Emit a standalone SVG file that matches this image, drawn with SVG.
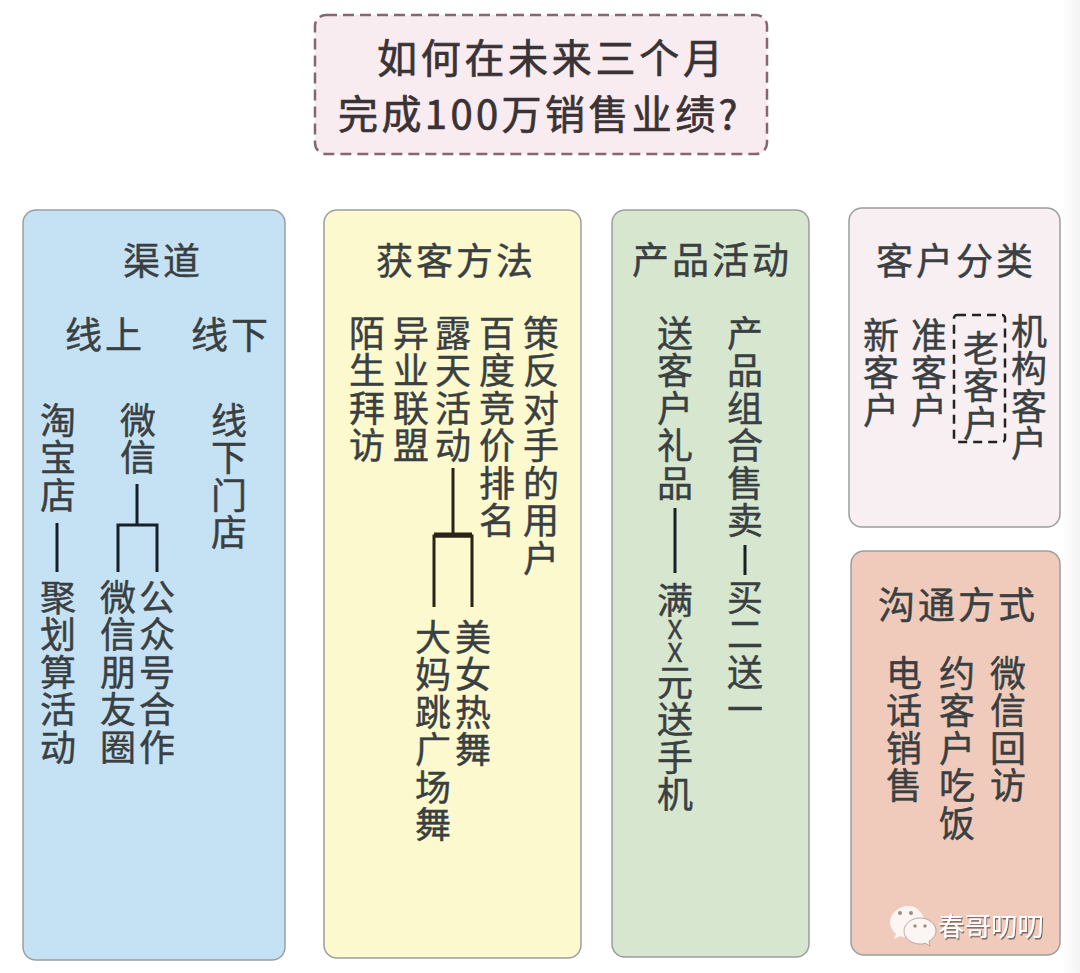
<svg xmlns="http://www.w3.org/2000/svg" width="1080" height="973" viewBox="0 0 1080 973">
<style>
text{font-family:"Noto Sans CJK SC","Noto Sans",sans-serif;font-size:36px;fill:#3a3f42;stroke:#3a3f42;stroke-width:.45px}
.v{writing-mode:vertical-rl;text-orientation:upright;letter-spacing:1.5px}
.h{font-size:37px;letter-spacing:3px}
.t{font-size:40px;fill:#3a3335;stroke:#3a3335;stroke-width:.7px}
.box{stroke:#9a9f9f;stroke-width:1.5}
.c{fill:none;stroke:#15202a;stroke-width:3}
.wm{font-size:26.5px;fill:#fff;stroke:none}
</style>
<defs>
<linearGradient id="edge"><stop offset="0" stop-color="#fff"/><stop offset="1" stop-color="#f3f3f3"/></linearGradient>
<filter id="sh" x="-10%" y="-10%" width="120%" height="130%"><feDropShadow dx="1" dy="1.5" stdDeviation="0.6" flood-color="#5a4a44" flood-opacity="0.8"/></filter>
</defs>
<rect width="1080" height="973" fill="#fff"/>
<rect x="1062" width="18" height="973" fill="url(#edge)"/>
<g id="title">
<rect x="315" y="15" width="452" height="139" rx="11" fill="#f9ecf1" stroke="#85686f" stroke-width="2.5" stroke-dasharray="11 6"/>
<text class="t" x="377" y="73" letter-spacing="3.7">如何在未来三个月</text>
<text class="t" x="338" y="129" letter-spacing="3.4">完成100万销售业绩?</text>
</g>
<g id="channel">
<rect class="box" x="23" y="210" width="262" height="750" rx="13" fill="#c5e2f5"/>
<text class="h" x="123" y="275">渠道</text>
<text class="h" x="65" y="349">线上</text>
<text class="h" x="191" y="349">线下</text>
<text class="v" x="58" y="402">淘宝店</text>
<text class="v" x="58" y="579">聚划算活动</text>
<text class="v" x="138" y="402">微信</text>
<text class="v" x="229" y="402">线下门店</text>
<text class="v" x="118" y="579">微信朋友圈</text>
<text class="v" x="157" y="579">公众号合作</text>
</g>
<g id="acquire">
<rect class="box" x="324" y="210" width="257" height="748" rx="13" fill="#fdf9cf"/>
<text class="h" x="376" y="275">获客方法</text>
<text class="v" x="367" y="315">陌生拜访</text>
<text class="v" x="411" y="315">异业联盟</text>
<text class="v" x="453" y="315">露天活动</text>
<text class="v" x="497" y="315">百度竞价排名</text>
<text class="v" x="541" y="315">策反对手的用户</text>
<text class="v" x="433" y="619">大妈跳广场舞</text>
<text class="v" x="473" y="619">美女热舞</text>
</g>
<g id="product">
<rect class="box" x="612" y="210" width="197" height="747" rx="13" fill="#d7e6cf"/>
<text class="h" x="632" y="274">产品活动</text>
<text class="v" x="675" y="315">送客户礼品</text>
<text class="v" x="675" y="582">满<tspan dy="-4" style="font-size:26px;letter-spacing:-3px">XX</tspan><tspan dy="2">元送手机</tspan></text>
<text class="v" x="745" y="315">产品组合售卖</text>
<text class="v" x="745" y="579">买二送一</text>
</g>
<g id="customer">
<rect class="box" x="849" y="208" width="211" height="319" rx="13" fill="#f8eff3"/>
<text class="h" x="876" y="275">客户分类</text>
<text class="v" x="881" y="317">新客户</text>
<text class="v" x="929" y="317">准客户</text>
<text class="v" x="981" y="330">老客户</text>
<text class="v" x="1029" y="313">机构客户</text>
<rect x="954" y="315" width="51" height="127" rx="3" fill="none" stroke="#222" stroke-width="2.5" stroke-dasharray="9 6"/>
</g>
<g id="contact">
<rect class="box" x="851" y="551" width="209" height="404" rx="13" fill="#f0cbbb"/>
<text class="h" x="878" y="619">沟通方式</text>
<text class="v" x="904" y="655">电话销售</text>
<text class="v" x="957" y="655">约客户吃饭</text>
<text class="v" x="1008" y="655">微信回访</text>
</g>
<g id="connectors">
<path class="c" d="M57 523V572"/>
<path class="c" d="M137 484V525M118 572V525H157V572"/>
<path class="c" style="stroke:#2a2418" d="M453 468V535"/>
<path class="c" style="stroke:#2a2418" d="M434 607V536H472V607"/>
<path class="c" style="stroke:#2a2418;stroke-width:5" d="M434 535H472"/>
<path class="c" d="M675 508V573"/>
<path class="c" d="M745 545V575"/>
</g>
<g id="watermark">
<path d="M909 906c-10 0-19 7-19 16 0 5 3 9 6 12l-2 5 6-3c2 1 4 1 6 1 0-8 8-15 19-15-2-9-8-16-16-16z" fill="#fbf6f3"/>
<path d="M920 918c-9 0-16 6-16 13s7 13 16 13c2 0 4 0 5 -1l5 3-1-5c4-2 7-6 7-10 0-7-7-13-16-13z" fill="#fbf6f3" stroke="#a88a80" stroke-width="0.7"/>
<circle cx="900" cy="913" r="2" fill="#a08a84"/><circle cx="911" cy="913" r="2" fill="#a08a84"/>
<circle cx="915" cy="926" r="1.7" fill="#a08a84"/><circle cx="925" cy="926" r="1.7" fill="#a08a84"/>
<text class="wm" x="938" y="936" filter="url(#sh)">春哥叨叨</text>
</g>
</svg>
